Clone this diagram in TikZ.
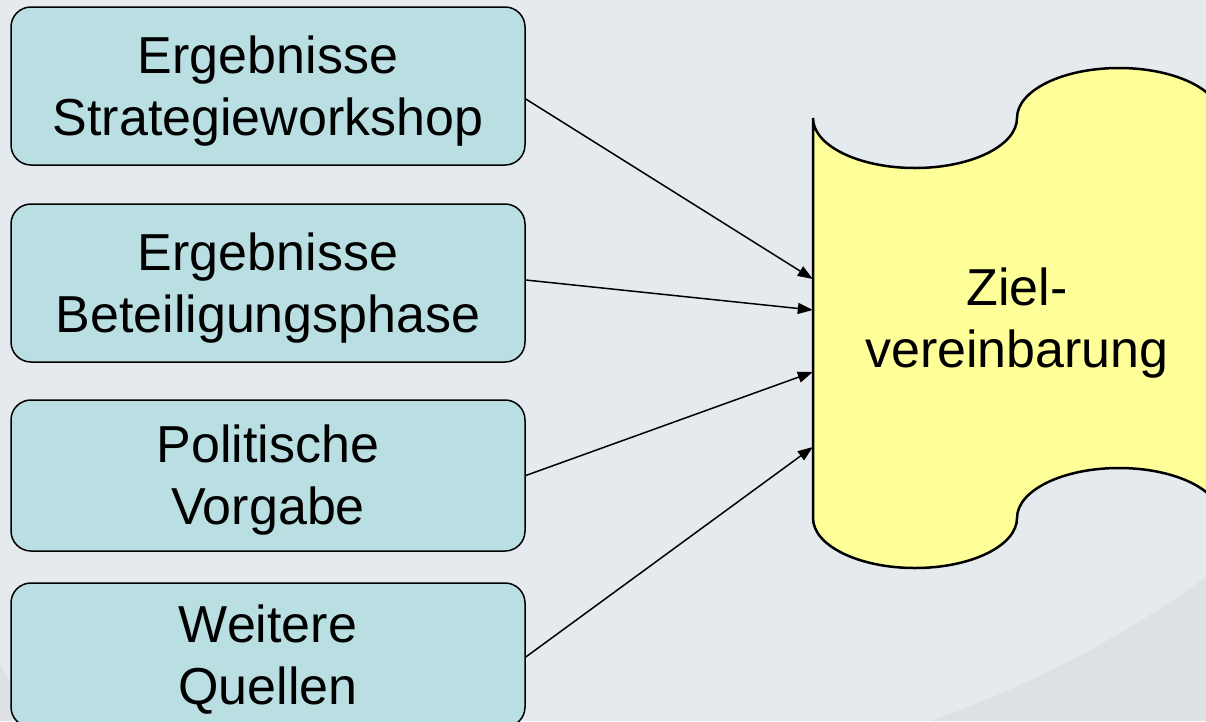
\documentclass[tikz,border=0pt]{standalone}
\usepackage{fontspec}
\setmainfont{Liberation Sans}
\usetikzlibrary{arrows.meta}
\definecolor{bgcol}{RGB}{229,234,238}
\definecolor{bgshade}{RGB}{221,224,228}
\definecolor{boxfill}{RGB}{185,223,226}
\definecolor{tapefill}{RGB}{255,255,153}

\begin{document}
\begin{tikzpicture}[x=1pt,y=-1pt,
  srcbox/.style={draw=black, line width=1.5pt, fill=boxfill, rounded corners=20pt,
                 minimum width=514pt, inner sep=0pt},
  boxtext/.style={font=\fontsize{52}{62}\selectfont, align=center, inner sep=0pt,
                  execute at begin node=\vphantom{bg}, execute at end node=\vphantom{bg}},
  tape/.style={draw=black, line width=2.5pt, fill=tapefill},
  feed/.style={line width=1.5pt, -{Triangle[length=15pt,width=11pt]}},
]
% canvas and background
\useasboundingbox (0,0) rectangle (1206,721);
\clip (0,0) rectangle (1206,721);
\fill[bgcol] (0,0) rectangle (1206,721);
\fill[bgshade] (930,721) .. controls (1020,690) and (1120,640) .. (1206,577) -- (1206,721) -- cycle;
\fill[bgshade] (0,665) .. controls (12,685) and (22,703) .. (32,721) -- (0,721) -- cycle;

% source boxes
\node[srcbox, minimum height=158pt] (b1) at (268,86) {};
\node[srcbox, minimum height=158pt] (b2) at (268,283) {};
\node[srcbox, minimum height=151pt] (b3) at (268,475.5) {};
\node[srcbox, minimum height=144pt] (b4) at (268,655) {};

\node[boxtext] (t1) at ([yshift=-5pt]b1.center) {Ergebnisse\\Strategieworkshop};
\node[boxtext] (t2) at ([yshift=-5pt]b2.center) {Ergebnisse\\Beteiligungsphase};
\node[boxtext] (t3) at ([yshift=-5pt]b3.center) {Politische\\Vorgabe};
\node[boxtext] (t4) at ([yshift=-5pt]b4.center) {Weitere\\Quellen};

% punched-tape target
\draw[tape] (813,118)
  .. controls (813,145.6) and (858.7,168) .. (915,168)
  .. controls (971.3,168) and (1017,145.6) .. (1017,118)
  .. controls (1017,90.4) and (1062.7,68) .. (1119,68)
  .. controls (1175.3,68) and (1221,90.4) .. (1221,118)
  -- (1221,518)
  .. controls (1221,490.4) and (1175.3,468) .. (1119,468)
  .. controls (1062.7,468) and (1017,490.4) .. (1017,518)
  .. controls (1017,545.6) and (971.3,568) .. (915,568)
  .. controls (858.7,568) and (813,545.6) .. (813,518)
  -- cycle;
\node[minimum width=408pt, minimum height=400pt, inner sep=0pt] (zv) at (1017,318) {};
\node[boxtext] (zt) at ([yshift=-5pt]zv.center) {Ziel-\\vereinbarung};

% connectors
\draw[feed] ([yshift=-13pt]b1.east) -- ([yshift=39pt]zv.west);
\draw[feed] ([yshift=3pt]b2.east) -- ([yshift=8pt]zv.west);
\draw[feed] (b3.east) -- ([yshift=-54pt]zv.west);
\draw[feed] ([yshift=-2pt]b4.east) -- ([yshift=-129pt]zv.west);
\end{tikzpicture}
\end{document}
